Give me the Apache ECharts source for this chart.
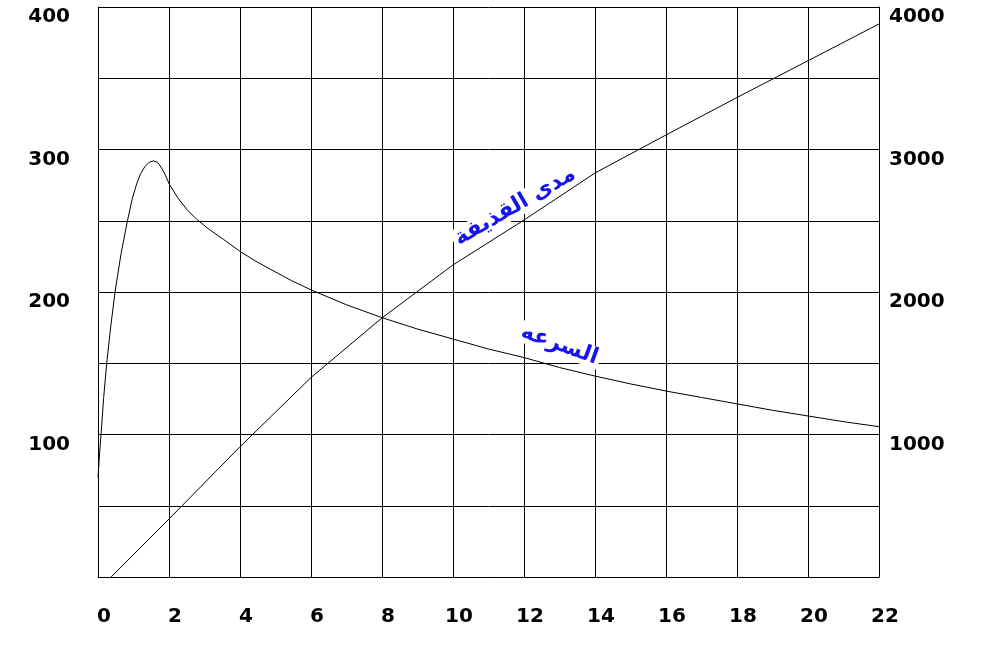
<!DOCTYPE html>
<html>
<head>
<meta charset="utf-8">
<title>range speed</title>
<script src="https://cdn.jsdelivr.net/npm/echarts@6/dist/echarts.min.js"></script>
<style>
  html, body { margin: 0; padding: 0; background: #fff; }
  #chart { width: 982px; height: 650px; }
</style>
</head>
<body>
<div id="chart"></div>
<script>
// time (x) values and readings
var speedX = [0, 0.04, 0.085, 0.16, 0.245, 0.36, 0.48, 0.65, 0.83, 0.96, 1.09, 1.2, 1.32, 1.44, 1.56, 1.68, 1.79, 1.9, 2.0, 2.25, 2.5, 2.78, 3.1, 3.53, 4, 4.45, 4.93, 5.45, 6, 7, 8, 9, 10, 11, 12, 13, 14, 15, 16, 17, 18, 19, 20, 21, 22];
var speedY = [70, 85, 100, 126, 150, 176, 200, 227, 250, 265, 276, 283, 288, 291, 292, 291, 287, 282, 276, 266, 258, 251, 244.5, 237, 228.5, 221.5, 215, 208, 201.5, 191, 182, 174, 167, 160, 154, 147, 141, 135.5, 130.5, 126, 121.5, 117, 113, 109, 105.5];
var rangeX = [0.37, 2, 4, 6, 8, 10, 12, 14, 16, 18, 20, 22];
var rangeY = [0, 407, 914, 1400, 1818, 2190, 2505, 2835, 3102, 3365, 3623, 3881];
var speedName = 'السرعه';
var rangeName = 'مدى القذيفة';

var speedData = [];
for (var i = 0; i < speedX.length; i++) speedData.push([speedX[i], speedY[i]]);
var rangeData = [];
for (var j = 0; j < rangeX.length; j++) rangeData.push([rangeX[j], rangeY[j]]);

var chart = echarts.init(document.getElementById('chart'));
var tickFont = { color: '#000', fontFamily: 'DejaVu Sans', fontWeight: 'bold', fontSize: 20 };
var noteLabel = {
  show: true,
  position: 'inside',
  color: '#1414f0',
  fontFamily: 'DejaVu Sans',
  fontWeight: 'bold',
  fontSize: 22,
  backgroundColor: '#fff',
  padding: [0, 3]
};

chart.setOption({
  animation: false,
  backgroundColor: '#fff',
  grid: { left: 98, top: 7, width: 781, height: 570 },
  xAxis: {
    type: 'value', min: 0, max: 22, interval: 2,
    axisLine: { show: true, lineStyle: { color: '#000', width: 1 } },
    axisTick: { show: false },
    splitLine: { show: true, lineStyle: { color: '#000', width: 1 } },
    axisLabel: Object.assign({ margin: 30, padding: [0, 0, 0, 12] }, tickFont)
  },
  yAxis: [{
    type: 'value', min: 0, max: 400, interval: 50,
    axisLine: { show: true, lineStyle: { color: '#000', width: 1 } },
    axisTick: { show: false },
    splitLine: { show: true, lineStyle: { color: '#000', width: 1 } },
    axisLabel: Object.assign({
      margin: 28, verticalAlign: 'top',
      formatter: function (v) { return (v > 0 && v % 100 === 0) ? String(v) : ''; }
    }, tickFont)
  }, {
    type: 'value', min: 0, max: 4000, interval: 500,
    position: 'right',
    axisLine: { show: true, lineStyle: { color: '#000', width: 1 } },
    axisTick: { show: false },
    splitLine: { show: false },
    axisLabel: Object.assign({
      margin: 10, verticalAlign: 'top',
      formatter: function (v) { return (v > 0 && v % 1000 === 0) ? String(v) : ''; }
    }, tickFont)
  }],
  series: [{
    name: speedName,
    type: 'line',
    yAxisIndex: 0,
    data: speedData,
    showSymbol: false,
    lineStyle: { color: '#000', width: 1 },
    markPoint: {
      symbolSize: 0,
      label: Object.assign({ rotate: -20, formatter: speedName }, noteLabel),
      data: [{ coord: [13.0, 163] }]
    }
  }, {
    name: rangeName,
    type: 'line',
    yAxisIndex: 1,
    data: rangeData,
    showSymbol: false,
    lineStyle: { color: '#000', width: 1 },
    markPoint: {
      symbolSize: 0,
      label: Object.assign({ rotate: 30, formatter: rangeName }, noteLabel),
      data: [{ coord: [11.75, 2600] }]
    }
  }]
});
</script>
</body>
</html>
